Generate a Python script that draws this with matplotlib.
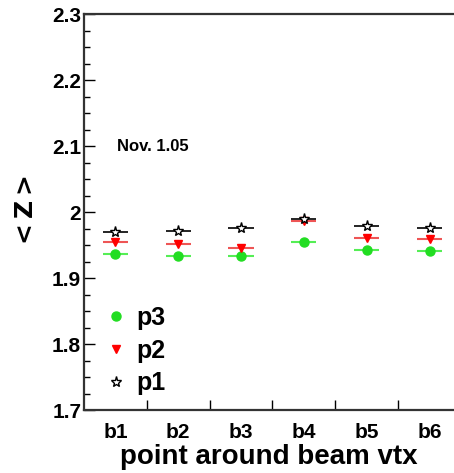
import matplotlib as mpl
mpl.rcParams.update({
    "font.family": "sans-serif",
    "font.sans-serif": ["Liberation Sans", "DejaVu Sans"],
    "font.weight": "bold",
})
import matplotlib.pyplot as plt
from matplotlib.ticker import MultipleLocator

# data
points = ["b1", "b2", "b3", "b4", "b5", "b6"]
p1 = [1.970, 1.971, 1.976, 1.989, 1.979, 1.976]
p2 = [1.955, 1.952, 1.945, 1.986, 1.961, 1.959]
p3 = [1.936, 1.933, 1.933, 1.955, 1.942, 1.941]
err = [0.003, 0.003, 0.003, 0.003, 0.003, 0.003]

fig = plt.figure(figsize=(4.54, 4.73), dpi=100)
ax = fig.add_axes([0.185, 0.133, 0.815, 0.837])

x = list(range(1, len(points) + 1))

ax.errorbar(x, p3, xerr=0.2, yerr=err, fmt='o', color='#22dd22', ecolor='#55ee55',
            ms=6.5, elinewidth=1.5, capsize=0, label='p3', zorder=3)
ax.errorbar(x, p2, xerr=0.2, yerr=err, fmt='v', color='red', ecolor='#ee5555',
            ms=6, elinewidth=1.5, capsize=0, label='p2', zorder=4)
ax.errorbar(x, p1, xerr=0.2, yerr=err, fmt='*', color='black', mfc='white', mec='black',
            ecolor='black', ms=8, mew=1.0, elinewidth=1.2, capsize=0, label='p1', zorder=5)

ax.set_xlim(0.5, 6.39)
ax.set_ylim(1.7, 2.3)

ax.set_xticks([1.5, 2.5, 3.5, 4.5, 5.5])
ax.set_xticklabels([])
ax.set_xticks(x, minor=True)
ax.set_xticklabels(points, minor=True, fontsize=15, fontweight='bold')
ax.tick_params(axis='x', which='major', direction='in', length=7, width=1)
ax.tick_params(axis='x', which='minor', length=0, pad=9)

ax.set_yticks([1.7, 1.8, 1.9, 2.0, 2.1, 2.2, 2.3])
ax.set_yticklabels(['1.7', '1.8', '1.9', '2', '2.1', '2.2', '2.3'], fontsize=15, fontweight='bold')
ax.yaxis.set_minor_locator(MultipleLocator(0.025))
ax.tick_params(axis='y', which='major', direction='in', length=8, width=1, pad=2)
ax.tick_params(axis='y', which='minor', direction='in', length=4, width=1)
ax.tick_params(top=False, right=False)

for s in ['left', 'bottom', 'top']:
    ax.spines[s].set_linewidth(1.6)
    ax.spines[s].set_color('#333333')
ax.spines['right'].set_visible(False)

ax.set_xlabel('point around beam vtx', fontsize=20, fontweight='bold', labelpad=2)
ax.set_ylabel(r'$<\mathbf{Z}>$', fontsize=18, labelpad=10)

ax.text(0.09, 0.655, 'Nov. 1.05', transform=ax.transAxes, fontsize=12, fontweight='bold')

handles, labels = ax.get_legend_handles_labels()
ax.legend([h[0] for h in handles], labels, loc='upper left', bbox_to_anchor=(0.0, 0.32),
          frameon=False, handlelength=0.8, handletextpad=0.4, labelspacing=0.35,
          prop={'weight': 'bold', 'size': 18})

plt.savefig('out.png', dpi=100)
